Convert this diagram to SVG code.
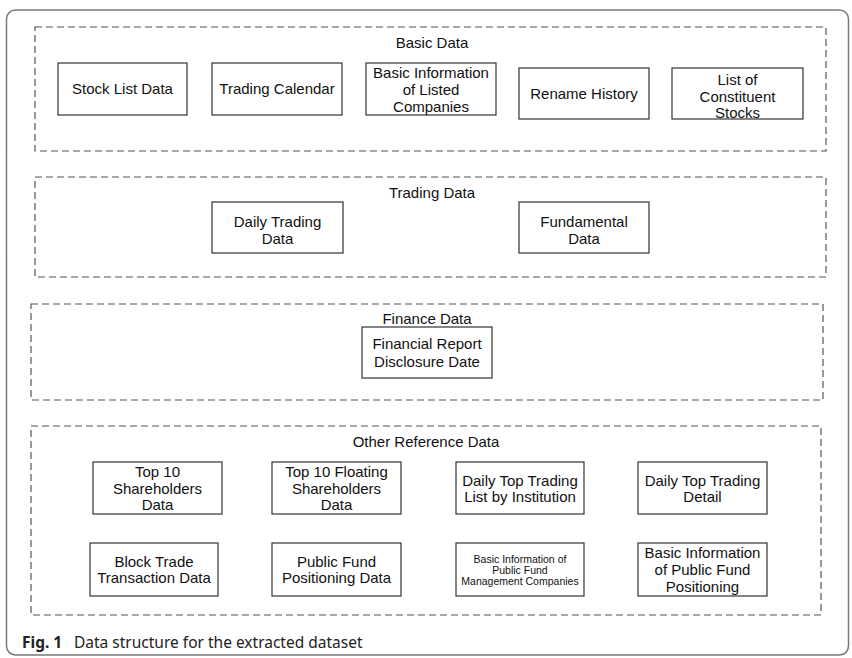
<svg xmlns="http://www.w3.org/2000/svg" width="852" height="658" viewBox="0 0 852 658">
<style>
.frame{fill:none;stroke:#7a7a7a;stroke-width:1.5}
.grp{fill:none;stroke:#555;stroke-width:1.2;stroke-dasharray:7 4}
.box{fill:#fff;stroke:#333;stroke-width:1.2}
.t{font-family:"Liberation Sans",Arial,sans-serif;font-size:15px;fill:#111;text-anchor:middle}
.s{font-family:"Liberation Sans",Arial,sans-serif;font-size:10.5px;fill:#111;text-anchor:middle}
.cap{font-family:"Noto Sans","Open Sans",sans-serif;font-size:15.5px;fill:#222}
</style>
<rect width="852" height="658" fill="#fff"/>
<rect class="frame" x="6.5" y="10" width="842" height="645" rx="9"/>

<g id="basic-data">
<rect class="grp" x="35" y="27" width="791" height="124"/>
<text class="t" x="432" y="48">Basic Data</text>
</g>
<g id="stock-list"><rect class="box" x="58" y="63" width="129" height="52"/><text class="t" x="122.5" y="94">Stock List Data</text></g>
<g id="trading-calendar"><rect class="box" x="212" y="63" width="130" height="52"/><text class="t" x="277" y="94">Trading Calendar</text></g>
<g id="basic-info-listed"><rect class="box" x="366" y="63" width="130" height="52"/><text class="t" x="431" y="78">Basic Information</text><text class="t" x="431" y="95">of Listed</text><text class="t" x="431" y="112">Companies</text></g>
<g id="rename-history"><rect class="box" x="519" y="68" width="130" height="51"/><text class="t" x="584" y="99">Rename History</text></g>
<g id="constituent"><rect class="box" x="672" y="68" width="131" height="51"/><text class="t" x="737.5" y="85">List of</text><text class="t" x="737.5" y="101.5">Constituent</text><text class="t" x="737.5" y="118">Stocks</text></g>

<g id="trading-data">
<rect class="grp" x="35" y="177" width="791" height="100"/>
<text class="t" x="432" y="198">Trading Data</text>
</g>
<g id="daily-trading"><rect class="box" x="212" y="202" width="131" height="51"/><text class="t" x="277.5" y="227">Daily Trading</text><text class="t" x="277.5" y="244">Data</text></g>
<g id="fundamental"><rect class="box" x="519" y="202" width="130" height="51"/><text class="t" x="584" y="227">Fundamental</text><text class="t" x="584" y="244">Data</text></g>

<g id="finance-data">
<rect class="grp" x="31" y="304" width="792" height="96"/>
<text class="t" x="427" y="324">Finance Data</text>
</g>
<g id="financial-report"><rect class="box" x="362" y="327" width="130" height="51"/><text class="t" x="427" y="349">Financial Report</text><text class="t" x="427" y="367">Disclosure Date</text></g>

<g id="other-reference-data">
<rect class="grp" x="31" y="426" width="790" height="189"/>
<text class="t" x="426" y="447">Other Reference Data</text>
</g>
<g id="top10"><rect class="box" x="93" y="462" width="129" height="52"/><text class="t" x="157.5" y="477">Top 10</text><text class="t" x="157.5" y="493.5">Shareholders</text><text class="t" x="157.5" y="510">Data</text></g>
<g id="top10-floating"><rect class="box" x="272" y="462" width="129" height="52"/><text class="t" x="336.5" y="477">Top 10 Floating</text><text class="t" x="336.5" y="493.5">Shareholders</text><text class="t" x="336.5" y="510">Data</text></g>
<g id="daily-top-institution"><rect class="box" x="456" y="462" width="128" height="52"/><text class="t" x="520" y="486">Daily Top Trading</text><text class="t" x="520" y="502">List by Institution</text></g>
<g id="daily-top-detail"><rect class="box" x="638" y="462" width="129" height="52"/><text class="t" x="702.5" y="486">Daily Top Trading</text><text class="t" x="702.5" y="502">Detail</text></g>
<g id="block-trade"><rect class="box" x="90" y="543" width="128" height="53"/><text class="t" x="154" y="567">Block Trade</text><text class="t" x="154" y="583">Transaction Data</text></g>
<g id="public-fund-positioning"><rect class="box" x="272" y="543" width="129" height="53"/><text class="t" x="336.5" y="567">Public Fund</text><text class="t" x="336.5" y="583">Positioning Data</text></g>
<g id="fund-mgmt"><rect class="box" x="456" y="543" width="128" height="53"/><text class="s" x="520" y="562.5">Basic Information of</text><text class="s" x="520" y="573.5">Public Fund</text><text class="s" x="520" y="585">Management Companies</text></g>
<g id="fund-positioning-basic"><rect class="box" x="638" y="543" width="129" height="53"/><text class="t" x="702.5" y="558">Basic Information</text><text class="t" x="702.5" y="575">of Public Fund</text><text class="t" x="702.5" y="592">Positioning</text></g>

<g id="connectors"></g>

<text class="cap" x="22" y="648"><tspan font-weight="bold">Fig. 1</tspan><tspan x="74">Data structure for the extracted dataset</tspan></text>
</svg>
